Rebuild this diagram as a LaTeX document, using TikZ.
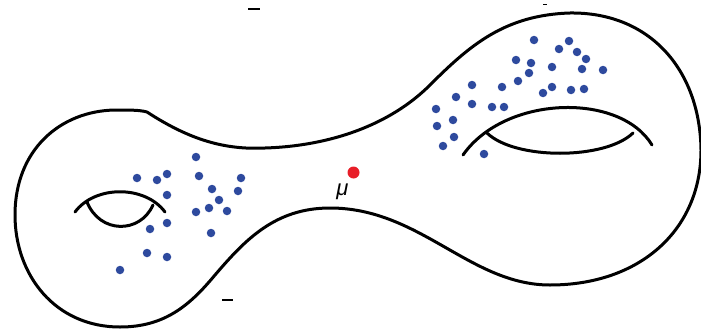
\documentclass[tikz,border=0pt]{standalone}
\usepackage{fontspec}
\newfontfamily\labelfont{Liberation Sans}
\begin{document}
\begin{tikzpicture}[x=1pt,y=-1pt,
  outline/.style={line width=3pt, line join=round, line cap=round},
  handle/.style={line width=3pt, line cap=round},
  sample/.style={circle, fill=dotblue, inner sep=0pt, minimum size=8.5pt},
  meanpt/.style={circle, fill=meanred, inner sep=0pt, minimum size=12pt},
  tick/.style={line width=2.5pt}]
\definecolor{dotblue}{RGB}{46,74,158}
\definecolor{meanred}{RGB}{232,30,40}
\useasboundingbox (0,0) rectangle (701,332);

% two-holed surface outline
\draw[outline]
  (147,112) .. controls (190,140) and (225,150) .. (265,148)
            .. controls (330,146) and (390,125) .. (430,85)
            .. controls (470,45) and (505,15) .. (570,13)
            .. controls (650,12) and (700,70) .. (701,150)
            .. controls (701,230) and (640,285) .. (550,285)
            .. controls (470,285) and (420,208) .. (330,208)
            .. controls (275,208) and (245,240) .. (215,275)
            .. controls (190,305) and (165,327) .. (120,327)
            .. controls (55,327) and (15,275) .. (15,215)
            .. controls (15,150) and (60,111) .. (115,110)
            .. controls (130,110) and (140,110) .. (147,112);

% left handle
\draw[handle] (75,212) .. controls (95,185) and (145,185) .. (165,212);
\draw[handle] (87,202) .. controls (100,234) and (140,234) .. (153,205);

% right handle
\draw[handle] (463,155) .. controls (505,95) and (620,92) .. (652,145);
\draw[handle] (487,133) .. controls (515,160) and (605,160) .. (633,133);

% samples near the left handle
\foreach \px/\py [count=\i] in {196/157,137/178,157/180,167/174,199/176,241/178,
  167/195,212/189,238/191,219/200,209/208,196/212,227/211,167/223,150/229,
  211/233,147/253,167/257,120/270}
  \node[sample] (l\i) at (\px,\py) {};

% samples near the right handle
\foreach \px/\py [count=\i] in {534/40,569/41,559/49,577/52,586/59,516/60,531/63,
  552/67,582/69,603/70,529/73,518/81,472/85,502/87,552/87,543/93,571/90,584/89,
  456/97,472/104,492/107,504/107,436/109,453/120,437/126,454/137,443/146,484/154}
  \node[sample] (r\i) at (\px,\py) {};

% mean point and its label
\node[meanpt] (mu) at (353.5,172.5) {};
\node[font=\labelfont\itshape\fontsize{22}{22}\selectfont, inner sep=0pt,
  anchor=base] (mulabel) at (342.5,195) {μ};

% small marks
\draw[tick] (248,9) -- (260,9);
\draw[line width=1.2pt] (543,4.5) -- (547,4.5);
\draw[tick] (222,300) -- (233,300);
\end{tikzpicture}
\end{document}
